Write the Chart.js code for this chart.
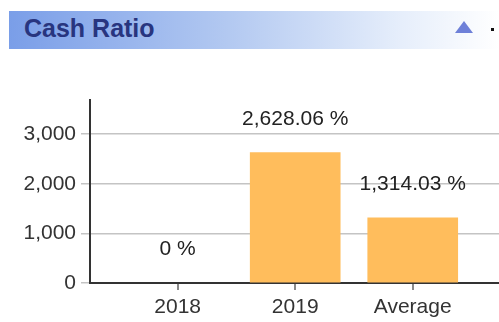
<!DOCTYPE html>
<html>
<head>
<meta charset="utf-8">
<script src="https://cdn.jsdelivr.net/npm/chart.js@4/dist/chart.umd.min.js"></script>
<style>
    html, body { margin: 0; padding: 0; background: #fff; }
    #wrap { position: relative; width: 499px; height: 322px; overflow: hidden; }
    #chart { position: absolute; left: 0; top: 0; }
    .panel-head {
        position: absolute; left: 9px; top: 11px; width: 490px; height: 38px;
        background: linear-gradient(to right, #7a9ee8 0%, #b3c9f1 45%, #e6eefb 80%, #ffffff 100%);
    }
    .panel-head .title {
        position: absolute; left: 15px; top: 3px;
        font: bold 25px "Liberation Sans", Arial, sans-serif; color: #28357f;
    }
    .panel-head .toggle {
        position: absolute; left: 446px; top: 10px; width: 0; height: 0;
        border-left: 9px solid transparent; border-right: 9px solid transparent;
        border-bottom: 12px solid #6e80d8;
    }
    .panel-head .dot {
        position: absolute; left: 482px; top: 17px; width: 3px; height: 3px; background: #111;
    }
</style>
</head>
<body>
<div id="wrap">
    <canvas id="chart" width="499" height="322"></canvas>
    <div class="panel-head">
        <span class="title">Cash Ratio</span>
        <span class="toggle"></span>
        <span class="dot"></span>
    </div>
</div>
<script>
const categories = ['2018', '2019', 'Average'];
const cashRatio = [0, 2628.06, 1314.03];
const yTicks = [0, 1000, 2000, 3000];

const barColor = '#ffbd5c';
const textFont = { family: '"Liberation Sans", Arial, sans-serif', size: 21 };

function formatPercent(v) {
    if (v === 0) return '0 %';
    return v.toLocaleString('en-US', { minimumFractionDigits: 2, maximumFractionDigits: 2 }) + ' %';
}

// value labels above each bar
const valueLabels = {
    id: 'valueLabels',
    afterDatasetsDraw(chart) {
        const ctx = chart.ctx;
        const meta = chart.getDatasetMeta(0);
        ctx.save();
        ctx.font = textFont.size + 'px ' + textFont.family;
        ctx.fillStyle = '#222';
        ctx.textAlign = 'center';
        ctx.textBaseline = 'alphabetic';
        meta.data.forEach((bar, i) => {
            ctx.fillText(formatPercent(cashRatio[i]), bar.x, bar.y - 28);
        });
        ctx.restore();
    }
};

new Chart(document.getElementById('chart'), {
    type: 'bar',
    data: {
        datasets: [{
            data: cashRatio.map((v, i) => ({ x: i, y: v })),
            // a zero bar has no visible body
            backgroundColor: c => (c.raw && c.raw.y === 0 ? 'rgba(0,0,0,0)' : barColor),
            borderWidth: 0,
            barThickness: 90
        }]
    },
    options: {
        responsive: false,
        animation: false,
        locale: 'en-US',
        layout: { padding: { top: 100, left: 0, right: 0, bottom: 0 } },
        plugins: { legend: { display: false }, tooltip: { enabled: false } },
        scales: {
            x: {
                type: 'linear',
                offset: false,
                z: 1,
                min: -0.746,
                max: 2.734,
                afterBuildTicks: scale => { scale.ticks = categories.map((_, i) => ({ value: i })); },
                afterFit: scale => { scale.height = 39; },
                grid: { offset: false, drawOnChartArea: false, drawTicks: true, tickLength: 7, color: '#8a8a8a', lineWidth: 2 },
                border: { display: true, color: '#333', width: 2 },
                ticks: {
                    autoSkip: false,
                    maxRotation: 0,
                    padding: 5,
                    color: '#333',
                    font: textFont,
                    callback: v => categories[v]
                }
            },
            y: {
                min: 0,
                max: 3690,
                afterBuildTicks: scale => { scale.ticks = yTicks.map(v => ({ value: v })); },
                afterFit: scale => { scale.width = 90; },
                grid: { color: '#c4c4c4', lineWidth: 1.5, tickLength: 9 },
                border: { display: true, color: '#333', width: 2 },
                ticks: { padding: 5, color: '#333', font: textFont }
            }
        }
    },
    plugins: [valueLabels]
});
</script>
</body>
</html>
